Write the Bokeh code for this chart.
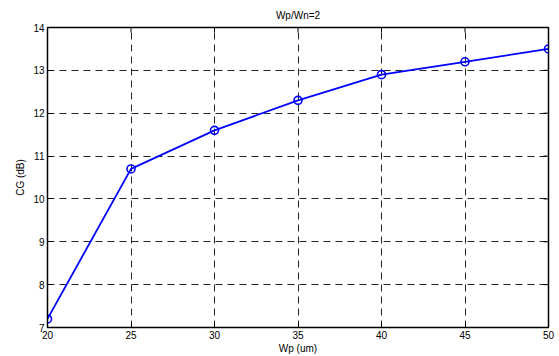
from bokeh.plotting import figure
from bokeh.models import Range1d, FixedTicker
from bokeh.embed import file_html
from bokeh.resources import INLINE

wp = [20, 25, 30, 35, 40, 45, 50]
cg = [7.2, 10.7, 11.6, 12.3, 12.9, 13.2, 13.5]
x_ticks = [20, 25, 30, 35, 40, 45, 50]
y_ticks = [7, 8, 9, 10, 11, 12, 13, 14]
x_lim = (20, 50)
y_lim = (7, 14)

FONT = "Liberation Sans"

p = figure(width=559, height=356, frame_width=501, frame_height=300,
           x_range=Range1d(*x_lim), y_range=Range1d(*y_lim),
           output_backend="svg", toolbar_location=None, tools="",
           title="Wp/Wn=2")
p.min_border_left = 47
p.min_border_right = 11
p.min_border_top = 27
p.min_border_bottom = 29
p.background_fill_color = "white"
p.border_fill_color = "white"
p.outline_line_color = "black"
p.outline_line_width = 1.5

p.title.align = "center"
p.title.text_font = FONT
p.title.text_font_size = "10px"
p.title.text_font_style = "normal"
p.title.text_color = "black"
p.title.standoff = 14

for ax, ticks in ((p.xaxis[0], x_ticks), (p.yaxis[0], y_ticks)):
    ax.ticker = FixedTicker(ticks=ticks)
    ax.major_tick_in = 5
    ax.major_tick_out = 0
    ax.minor_tick_in = 0
    ax.minor_tick_out = 0
    ax.major_label_text_font = FONT
    ax.major_label_text_font_size = "10px"
    ax.major_label_text_color = "black"
    ax.axis_label_text_font = FONT
    ax.axis_label_text_font_size = "10px"
    ax.axis_label_text_font_style = "normal"
    ax.axis_label_text_color = "black"
    ax.axis_line_color = "black"
    ax.major_tick_line_color = "black"
    ax.major_label_standoff = 3

p.xaxis.axis_label = "Wp (um)"
p.yaxis.axis_label = "CG (dB)"
p.xaxis.axis_label_standoff = 1
p.yaxis.axis_label_standoff = 4

# inward tick marks on the top and right edges of the box
tick_frac = 5 / 300
ty = y_lim[1] - (y_lim[1] - y_lim[0]) * tick_frac
tx = x_lim[1] - (x_lim[1] - x_lim[0]) * (5 / 501)
p.segment(x0=x_ticks, y0=[y_lim[1]] * len(x_ticks), x1=x_ticks,
          y1=[ty] * len(x_ticks), line_color="black", line_width=1)
p.segment(x0=[x_lim[1]] * len(y_ticks), y0=y_ticks, x1=[tx] * len(y_ticks),
          y1=y_ticks, line_color="black", line_width=1)

p.xgrid.ticker = FixedTicker(ticks=x_ticks)
p.ygrid.ticker = FixedTicker(ticks=y_ticks)
for g in (p.xgrid[0], p.ygrid[0]):
    g.grid_line_color = "black"
    g.grid_line_width = 1
    g.grid_line_dash = "7 5"
    g.grid_line_alpha = 0.85

p.line(wp, cg, line_color="#0000ff", line_width=1.8)
p.scatter(wp, cg, marker="circle", size=8, line_color="#0000ff",
          fill_color=None, line_width=1.6)

open("out.html", "w").write(file_html(p, INLINE))
